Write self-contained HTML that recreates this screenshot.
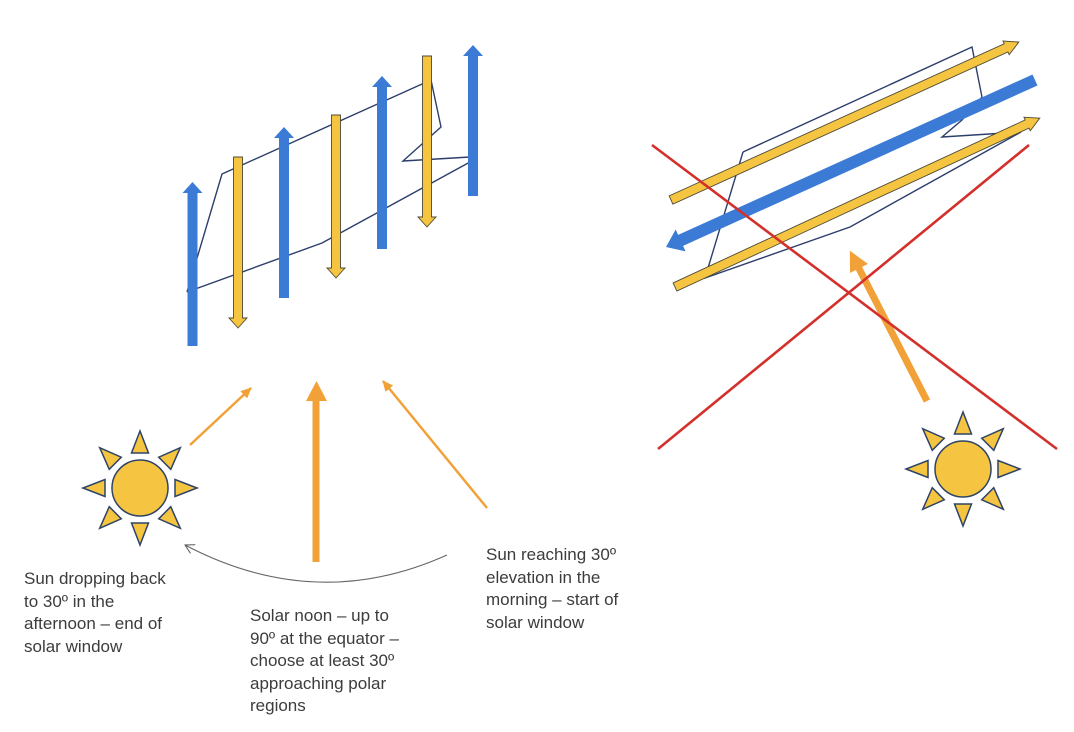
<!DOCTYPE html>
<html>
<head>
<meta charset="utf-8">
<style>
  html,body{margin:0;padding:0;background:#fff;}
  .wrap{position:relative;width:1074px;height:732px;overflow:hidden;background:#fff;}
  svg{position:absolute;left:0;top:0;}
  .t{position:absolute;font-family:"Liberation Sans",sans-serif;font-size:17px;line-height:22.6px;color:#3c3c3c;white-space:nowrap;}
</style>
</head>
<body>
<div class="wrap">
<svg width="1074" height="732" viewBox="0 0 1074 732" xmlns="http://www.w3.org/2000/svg">
  <defs>
    <marker id="oh" markerWidth="11" markerHeight="10" refX="10" refY="5" orient="auto" markerUnits="userSpaceOnUse">
      <path d="M0,0 L11,5 L0,10 z" fill="#f1a137"/>
    </marker>
    <marker id="gh" markerWidth="12" markerHeight="12" refX="9" refY="5" orient="auto" markerUnits="userSpaceOnUse">
      <path d="M0,0 L9,5 L0,10" fill="none" stroke="#555" stroke-width="1"/>
    </marker>
  </defs>

  <!-- LEFT DIAGRAM outline -->
  <polyline points="187,292 222,174 431,80 441,127 403,161 470,157" fill="none" stroke="#2c3e6b" stroke-width="1.4"/>
  <polyline points="470,162 322,243 187,292" fill="none" stroke="#2c3e6b" stroke-width="1.4"/>

  <!-- blue up arrows -->
  <g fill="#3b7bd6">
    <polygon points="187.5,346 197.5,346 197.5,193 202.5,193 192.5,182 182.5,193 187.5,193"/>
    <polygon points="279,298 289,298 289,138 294,138 284,127 274,138 279,138"/>
    <polygon points="377,249 387,249 387,87 392,87 382,76 372,87 377,87"/>
    <polygon points="468,196 478,196 478,56 483,56 473,45 463,56 468,56"/>
  </g>
  <!-- yellow down arrows -->
  <g fill="#f5c542" stroke="#4d4a35" stroke-width="0.9">
    <polygon points="233.5,157 242.5,157 242.5,318 247,318 238,328 229,318 233.5,318"/>
    <polygon points="331.5,115 340.5,115 340.5,268 345,268 336,278 327,268 331.5,268"/>
    <polygon points="422.5,56 431.5,56 431.5,217 436,217 427,227 418,217 422.5,217"/>
  </g>

  <!-- left orange arrows -->
  <line x1="190" y1="445" x2="251" y2="388" stroke="#f1a137" stroke-width="2.5" marker-end="url(#oh)"/>
  <line x1="487" y1="508" x2="383" y2="381" stroke="#f1a137" stroke-width="2.5" marker-end="url(#oh)"/>
  <polygon points="312.5,562 319.5,562 319.5,401 327,401 316.5,381 306,401 312.5,401" fill="#f1a137"/>

  <!-- gray arc -->
  <path d="M447,555 Q316,614 185,545" fill="none" stroke="#666" stroke-width="1.1" marker-end="url(#gh)"/>

  <!-- left sun -->
  <g transform="translate(140,488)" fill="#f5c542" stroke="#2e4466" stroke-width="1.5" stroke-linejoin="miter">
    <circle cx="0" cy="0" r="28"/>
    <polygon points="0,-57 -8.5,-35 8.5,-35"/>
    <polygon points="0,-57 -8.5,-35 8.5,-35" transform="rotate(45)"/>
    <polygon points="0,-57 -8.5,-35 8.5,-35" transform="rotate(90)"/>
    <polygon points="0,-57 -8.5,-35 8.5,-35" transform="rotate(135)"/>
    <polygon points="0,-57 -8.5,-35 8.5,-35" transform="rotate(180)"/>
    <polygon points="0,-57 -8.5,-35 8.5,-35" transform="rotate(225)"/>
    <polygon points="0,-57 -8.5,-35 8.5,-35" transform="rotate(270)"/>
    <polygon points="0,-57 -8.5,-35 8.5,-35" transform="rotate(315)"/>
  </g>

  <!-- RIGHT DIAGRAM outline -->
  <polyline points="743,152 972,47 982,97 962,120 942,137 1021,132 850,227 705,278 743,152" fill="none" stroke="#2c3e6b" stroke-width="1.4"/>

  <!-- yellow arrow 1 -->
  <g transform="translate(671,200) rotate(-24.42)">
    <polygon points="0,-4.5 368,-4.5 368,-7.5 382,0 368,7.5 368,4.5 0,4.5" fill="#f5c542" stroke="#4d4a35" stroke-width="0.9"/>
  </g>
  <!-- blue arrow -->
  <g transform="translate(1035,80) rotate(155.65)">
    <polygon points="0,-6 389,-6 389,-12 405,0 389,12 389,6 0,6" fill="#3b7bd6"/>
  </g>
  <!-- yellow arrow 2 -->
  <g transform="translate(675,287) rotate(-24.84)">
    <polygon points="0,-4.5 388,-4.5 388,-7.5 402,0 388,7.5 388,4.5 0,4.5" fill="#f5c542" stroke="#4d4a35" stroke-width="0.9"/>
  </g>

  <!-- right orange arrow -->
  <g transform="translate(927,401) rotate(-117.17)">
    <polygon points="0,-3.5 149,-3.5 149,-10 169,0 149,10 149,3.5 0,3.5" fill="#f1a137"/>
  </g>

  <!-- red cross -->
  <line x1="652" y1="145" x2="1057" y2="449" stroke="#d4302b" stroke-width="2.6"/>
  <line x1="1029" y1="145" x2="658" y2="449" stroke="#d4302b" stroke-width="2.6"/>

  <!-- right sun -->
  <g transform="translate(963,469)" fill="#f5c542" stroke="#2e4466" stroke-width="1.5">
    <circle cx="0" cy="0" r="28"/>
    <polygon points="0,-57 -8.5,-35 8.5,-35"/>
    <polygon points="0,-57 -8.5,-35 8.5,-35" transform="rotate(45)"/>
    <polygon points="0,-57 -8.5,-35 8.5,-35" transform="rotate(90)"/>
    <polygon points="0,-57 -8.5,-35 8.5,-35" transform="rotate(135)"/>
    <polygon points="0,-57 -8.5,-35 8.5,-35" transform="rotate(180)"/>
    <polygon points="0,-57 -8.5,-35 8.5,-35" transform="rotate(225)"/>
    <polygon points="0,-57 -8.5,-35 8.5,-35" transform="rotate(270)"/>
    <polygon points="0,-57 -8.5,-35 8.5,-35" transform="rotate(315)"/>
  </g>
</svg>

<div class="t" style="left:24px;top:568px;">Sun dropping back<br>to 30º in the<br>afternoon – end of<br>solar window</div>
<div class="t" style="left:250px;top:605px;">Solar noon – up to<br>90º at the equator –<br>choose at least 30º<br>approaching polar<br>regions</div>
<div class="t" style="left:486px;top:544px;">Sun reaching 30º<br>elevation in the<br>morning – start of<br>solar window</div>
</div>
</body>
</html>
